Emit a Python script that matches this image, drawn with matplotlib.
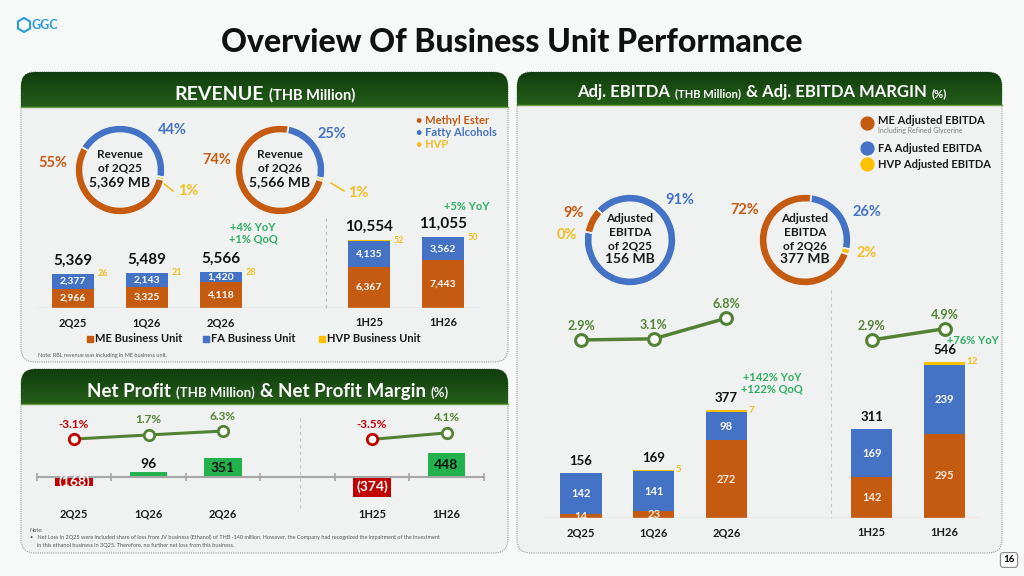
import numpy as np
import matplotlib
matplotlib.use('Agg')
import matplotlib.pyplot as plt
from matplotlib.patches import FancyBboxPatch, RegularPolygon

plt.rcParams['font.family'] = ['Lato', 'DejaVu Sans']

# ---- data ----
periods = ['2Q25', '1Q26', '2Q26', '1H25', '1H26']
pos = [0, 1, 2, 4, 5]

rev_me = [2966, 3325, 4118, 6367, 7443]
rev_fa = [2377, 2143, 1420, 4135, 3562]
rev_hvp = [26, 21, 28, 52, 50]
rev_total = [5369, 5489, 5566, 10554, 11055]
rev_share_2q25 = [55, 44, 1]   # ME, FA, HVP
rev_share_2q26 = [74, 25, 1]

np_value = [-168, 96, 351, -374, 448]
np_margin = [-3.1, 1.7, 6.3, -3.5, 4.1]

eb_me = [14, 23, 272, 142, 295]
eb_fa = [142, 141, 98, 169, 239]
eb_hvp = [0, 5, 7, 0, 12]
eb_total = [156, 169, 377, 311, 546]
eb_margin = [2.9, 3.1, 6.8, 2.9, 4.9]
eb_share_2q25 = [9, 91, 0]
eb_share_2q26 = [72, 26, 2]

# ---- colours ----
ME = '#C55A11'
FA = '#4472C4'
HVP = '#FFC000'
OLIVE = '#548235'
GROW = '#2EAD62'
POS = '#22B14C'
NEG = '#C00000'
PANEL = '#F0F2F2'
BGC = '#F7F8F8'

W, H = 1024, 576
fig = plt.figure(figsize=(10.24, 5.76), dpi=100, facecolor=BGC)
bg = fig.add_axes([0, 0, 1, 1])
bg.set_xlim(0, W)
bg.set_ylim(H, 0)
bg.axis('off')


def cat_axes(x0px, dx, base, py, xlim, ylim):
    left = x0px + xlim[0] * dx
    right = x0px + xlim[1] * dx
    top = base - ylim[1] * py
    bot = base - ylim[0] * py
    ax = fig.add_axes([left / W, 1 - bot / H, (right - left) / W, (bot - top) / H])
    ax.set_xlim(*xlim)
    ax.set_ylim(*ylim)
    ax.axis('off')
    return ax


def panel(x0, y0, x1, y1, hh=35):
    p = FancyBboxPatch((x0, y0), x1 - x0, y1 - y0,
                       boxstyle='round,pad=0,rounding_size=14',
                       fc=PANEL, ec='#9A9A9A', lw=0.8, ls=(0, (1, 1)))
    bg.add_patch(p)
    t = np.linspace(0, 1, 40)[:, None, None]
    top = np.array([0x10, 0x3D, 0x0D]) / 255.
    bot = np.array([0x25, 0x5E, 0x1A]) / 255.
    grad = top * (1 - t) + bot * t
    im = bg.imshow(grad, extent=(x0, x1, y0 + hh, y0), aspect='auto', zorder=2)
    clip = FancyBboxPatch((x0, y0), x1 - x0, y1 - y0,
                          boxstyle='round,pad=0,rounding_size=14',
                          transform=bg.transData, fc='none', ec='none')
    im.set_clip_path(clip)
    bg.plot([x0, x1], [y0 + hh, y0 + hh], color='#6E9E45', lw=1, zorder=3)


def rich(parts, cx, y, color='white', gap=5):
    r = fig.canvas.get_renderer()
    ts = [bg.text(0, y, s, fontsize=fs, fontweight='bold', color=color,
                  va='baseline', ha='left', zorder=4) for s, fs in parts]
    ws = [t.get_window_extent(renderer=r).width for t in ts]
    x = cx - (sum(ws) + gap * (len(ws) - 1)) / 2
    for t, w in zip(ts, ws):
        t.set_x(x)
        x += w + gap


def donut(cx, cy, r, vals, colors, start, width=0.18):
    ax = fig.add_axes([(cx - r) / W, 1 - (cy + r) / H, 2 * r / W, 2 * r / H])
    ax.pie(vals, colors=colors, startangle=start, counterclock=False,
           wedgeprops=dict(width=width, edgecolor=PANEL, linewidth=1.2))
    ax.set_xlim(-1, 1)
    ax.set_ylim(-1, 1)
    ax.set_aspect('equal')
    ax.axis('off')


# ---- title & logo ----
bg.text(512, 42, 'Overview Of Business Unit Performance', fontsize=23,
        fontweight='black', ha='center', va='center', color='#111111')
bg.add_patch(RegularPolygon((24, 25), 6, radius=7, fc='none', ec='#2A9BD8', lw=1.5))
bg.text(31, 25, 'GGC', fontsize=9, fontweight='bold', color='#2A9BD8', va='center')

# ---- panels ----
panel(21, 72, 508, 362)
panel(21, 369, 508, 553)
panel(517, 72, 1002, 553, hh=33)
rich([('REVENUE', 14), ('(THB Million)', 10.5)], 265, 100)
rich([('Net Profit', 13.5), ('(THB Million)', 9.5), ('& Net Profit Margin', 13.5), ('(%)', 9.5)], 268, 397)
rich([('Adj. EBITDA', 12), ('(THB Million)', 8), ('& Adj. EBITDA MARGIN', 12), ('(%)', 8)], 762, 97)

# ---- revenue donuts ----
donut(120, 170, 45, [rev_share_2q25[1], rev_share_2q25[2], rev_share_2q25[0]], [FA, HVP, ME], 149)
donut(280, 170, 45, [rev_share_2q26[1], rev_share_2q26[2], rev_share_2q26[0]], [FA, HVP, ME], 79)
for cx, per, tot in [(120, '2Q25', rev_total[0]), (280, '2Q26', rev_total[2])]:
    bg.text(cx, 155, 'Revenue', fontsize=8.5, fontweight='bold', ha='center', va='center', color='#1A1A1A')
    bg.text(cx, 168, 'of ' + per, fontsize=8.5, fontweight='bold', ha='center', va='center', color='#1A1A1A')
    bg.text(cx, 182, f'{tot:,} MB', fontsize=10, fontweight='bold', ha='center', va='center', color='#1A1A1A')
for sh, xy in [(rev_share_2q25, [(53, 163), (172, 130), (188, 191)]),
               (rev_share_2q26, [(217, 160), (332, 134), (358, 193)])]:
    for v, c, (x, y) in zip(sh, [ME, FA, '#F2BE22'], xy):
        bg.text(x, y, f'{v}%', fontsize=10.5, fontweight='bold', color=c, ha='center', va='center')
bg.plot([163, 173], [183, 191], color='#F2BE22', lw=1.2)
bg.plot([331, 344], [183, 191], color='#F2BE22', lw=1.2)

for i, (s, c) in enumerate([('Methyl Ester', ME), ('Fatty Alcohols', FA), ('HVP', '#F2BE22')]):
    bg.text(416, 120 + i * 12.5, '\u2022 ' + s, fontsize=8, fontweight='bold', color=c, va='center')

# ---- revenue bars ----
ax = cat_axes(73, 74, 308, 71 / 11055, (-0.6, 5.7), (0, 16500))
me = np.array(rev_me)
fa = np.array(rev_fa)
ax.plot([-0.49, 5.5], [0, 0], color='#D0D0D0', lw=1)
ax.bar(pos, me, 0.56, color=ME)
ax.bar(pos, fa, 0.56, bottom=me, color=FA)
ax.bar(pos, rev_hvp, 0.56, bottom=me + fa, color=HVP)
for p, m, f, hv, tot, lab in zip(pos, rev_me, rev_fa, rev_hvp, rev_total, periods):
    ax.text(p, m / 2, f'{m:,}', color='white', fontsize=7.5, fontweight='bold', ha='center', va='center')
    ax.text(p, m + f / 2, f'{f:,}', color='white', fontsize=7.5, fontweight='bold', ha='center', va='center')
    ax.annotate(f'{tot:,}', (p, tot), xytext=(0, 13), textcoords='offset pixels',
                ha='center', va='center', fontsize=11, fontweight='bold', color='#111111')
    ax.annotate(f'{hv}', (p, tot), xytext=(30, 0), textcoords='offset pixels',
                ha='center', va='center', fontsize=6.5, fontweight='bold', color='#F2BE22')
    ax.annotate(lab, (p, 0), xytext=(0, -15), textcoords='offset pixels',
                ha='center', va='center', fontsize=8, fontweight='bold', color='#1A1A1A')
bg.plot([326, 326], [218, 308], ls=(0, (3, 3)), color='#BFBFBF', lw=0.8)
bg.text(253, 233, '+4% YoY\n+1% QoQ', fontsize=8, fontweight='bold', color=GROW,
        ha='center', va='center', linespacing=1.05)
bg.text(467, 207, '+5% YoY', fontsize=8, fontweight='bold', color=GROW, ha='center', va='center')

for x, s, c in [(90, 'ME Business Unit', ME), (206, 'FA Business Unit', FA), (322, 'HVP Business Unit', HVP)]:
    bg.scatter([x], [339], marker='s', s=16, color=c)
    bg.text(x + 5, 339, s, fontsize=8, fontweight='bold', va='center', color='#1A1A1A')
bg.text(38, 355, 'Note: RBL revenue was including in ME business unit.', fontsize=4, color='#555555', va='center')

# ---- net profit ----
ax = cat_axes(74, 74.5, 477, 0.054, (-0.6, 5.6), (-450, 550))
bars = ax.bar(pos, np_value, 0.51, color=[POS if v > 0 else NEG for v in np_value])
ax.plot([-0.5, 5.5], [0, 0], color='#A6A6A6', lw=1.5)
ax.plot([-0.5, 0.5, 1.5, 2.5, 3.5, 4.5, 5.5], [0] * 7, ls='none', marker='|', ms=6, mew=1.2, color='#A6A6A6')
for b, p, v, lab in zip(bars, pos, np_value, periods):
    s = f'({-v})' if v < 0 else f'{v}'
    if v < 0:
        t = ax.text(p, v / 2, s, color='white', fontsize=10, fontweight='bold', ha='center', va='center')
        t.set_clip_path(b)
    elif v > 200:
        ax.text(p, v / 2, s, color='#111111', fontsize=10, fontweight='bold', ha='center', va='center')
    else:
        ax.annotate(s, (p, v), xytext=(0, 8), textcoords='offset pixels', ha='center',
                    va='center', fontsize=10, fontweight='bold', color='#111111')
    ax.annotate(lab, (p, 0), xytext=(0, -37), textcoords='offset pixels',
                ha='center', va='center', fontsize=8, fontweight='bold', color='#1A1A1A')

ax = cat_axes(74, 74.5, 436.4, 0.851, (-0.6, 5.6), (-6, 9))
for seg in [slice(0, 3), slice(3, 5)]:
    ax.plot(pos[seg], np_margin[seg], color=OLIVE, lw=2.2, clip_on=False)
for p, v in zip(pos, np_margin):
    c = NEG if v < 0 else OLIVE
    ax.plot([p], [v], marker='o', ms=7.5, mfc='white', mec=c, mew=2, clip_on=False)
    ax.annotate(f'{v}%', (p, v), xytext=(0, 15), textcoords='offset pixels', ha='center',
                va='center', fontsize=8.5, fontweight='bold', color=c)
bg.plot([300, 300], [418, 508], ls=(0, (3, 3)), color='#C8C8C8', lw=0.8)
bg.text(30, 530, 'Note:', fontsize=4, color='#555555', va='center')
bg.text(30, 537, '\u2022   Net Loss in 2Q25 were included share of loss from JV business (Ethanol) of THB -140 million. '
        'However, the Company had recognized the impairment of the investment',
        fontsize=4, color='#555555', va='center')
bg.text(37, 545, 'in this ethanol business in 3Q25. Therefore, no further net loss from this business.',
        fontsize=4, color='#555555', va='center')

# ---- EBITDA ----
for i, (s, c) in enumerate([('ME Adjusted EBITDA', ME), ('FA Adjusted EBITDA', FA), ('HVP Adjusted EBITDA', HVP)]):
    y = [121, 148, 164][i]
    bg.scatter([867], [y + (2 if i == 0 else 0)], s=85, color=c)
    bg.text(878, y, s, fontsize=8, fontweight='bold', va='center', color='#1A1A1A')
bg.text(878, 130, 'Including Refined Glycerine', fontsize=5, color='#7F7F7F', va='center')

donut(630, 240, 46, [eb_share_2q25[1], eb_share_2q25[2], eb_share_2q25[0]], [FA, HVP, ME], 137)
donut(805, 240, 46, [eb_share_2q26[1], eb_share_2q26[2], eb_share_2q26[0]], [FA, HVP, ME], 82)
for cx, per, tot in [(630, '2Q25', eb_total[0]), (805, '2Q26', eb_total[2])]:
    for j, s in enumerate(['Adjusted', 'EBITDA', 'of ' + per]):
        bg.text(cx, 219 + j * 13.3, s, fontsize=8.5, fontweight='bold', ha='center', va='center', color='#1A1A1A')
    bg.text(cx, 259, f'{tot} MB', fontsize=10, fontweight='bold', ha='center', va='center', color='#1A1A1A')
for sh, xy in [(eb_share_2q25, [(574, 213), (680, 200), (567, 235)]),
               (eb_share_2q26, [(745, 210), (867, 212), (867, 253)])]:
    for v, c, (x, y) in zip(sh, [ME, FA, '#F2BE22'], xy):
        bg.text(x, y, f'{v}%', fontsize=10.5, fontweight='bold', color=c, ha='center', va='center')

ax = cat_axes(581, 72.7, 518, 156 / 546, (-0.6, 5.6), (0, 600))
me = np.array(eb_me)
fa = np.array(eb_fa)
ax.plot([-0.51, 5.47], [0, 0], color='#D0D0D0', lw=1)
ax.bar(pos, me, 0.565, color=ME)
ax.bar(pos, fa, 0.565, bottom=me, color=FA)
ax.bar(pos, eb_hvp, 0.565, bottom=me + fa, color=HVP)
for p, m, f, hv, tot, lab in zip(pos, eb_me, eb_fa, eb_hvp, eb_total, periods):
    ax.text(p, m / 2, f'{m}', color='#FDEBDD', fontsize=8, fontweight='bold', ha='center', va='center', clip_on=True)
    ax.text(p, m + f / 2, f'{f}', color='white', fontsize=8, fontweight='bold', ha='center', va='center')
    ax.annotate(f'{tot}', (p, tot), xytext=(0, 12), textcoords='offset pixels',
                ha='center', va='center', fontsize=9.5, fontweight='bold', color='#111111')
    if hv > 0:
        ax.annotate(f'{hv}', (p, tot), xytext=(22, 0), textcoords='offset pixels',
                    ha='left', va='center', fontsize=7, fontweight='bold', color='#F2BE22')
    ax.annotate(lab, (p, 0), xytext=(0, -15), textcoords='offset pixels',
                ha='center', va='center', fontsize=8, fontweight='bold', color='#1A1A1A')

ax = cat_axes(581, 72.7, 356.2, 5.6, (-0.6, 5.6), (0, 9))
for seg in [slice(0, 3), slice(3, 5)]:
    ax.plot(pos[seg], eb_margin[seg], color=OLIVE, lw=2.5, marker='o', ms=8.5,
            mfc='white', mec=OLIVE, mew=2.2, clip_on=False)
for p, v in zip(pos, eb_margin):
    ax.annotate(f'{v}%', (p, v), xytext=(0, 14), textcoords='offset pixels', ha='center',
                va='center', fontsize=9, fontweight='bold', color=OLIVE)
bg.plot([831, 831], [290, 518], ls=(0, (3, 3)), color='#C8C8C8', lw=0.8)
bg.text(772, 383, '+142% YoY\n+122% QoQ', fontsize=8, fontweight='bold', color=GROW,
        ha='center', va='center', linespacing=1.05)
bg.text(973, 340, '+76% YoY', fontsize=8, fontweight='bold', color=GROW, ha='center', va='center')

# page number
bg.text(1009, 560, '16', fontsize=7, fontweight='bold', ha='center', va='center',
        bbox=dict(boxstyle='round,pad=0.3', fc='white', ec='#888888', lw=0.8))

fig.savefig('out.png', dpi=100, facecolor=BGC)
